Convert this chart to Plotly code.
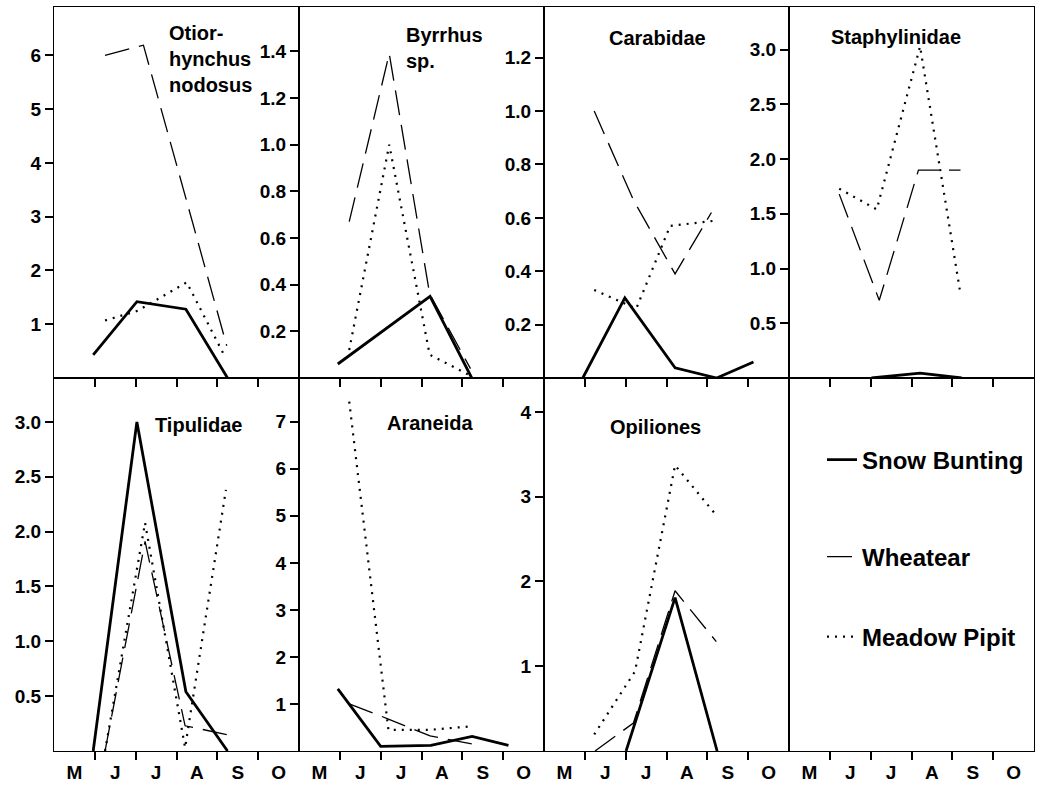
import plotly.graph_objects as go

W, H = 1041, 785

# ---------------- data ----------------
months = ["M", "J", "J", "A", "S", "O"]
month_centres = [0.5, 1.5, 2.5, 3.5, 4.5, 5.5]
month_bounds = [1, 2, 3, 4, 5]

titles = ["Otior-<br>hynchus<br>nodosus", "Byrrhus<br>sp.", "Carabidae", "Staphylinidae",
          "Tipulidae", "Araneida", "Opiliones"]

# Snow Bunting (solid)
sb_x = [[0.96, 2.03, 3.23, 4.25], [0.95, 3.21, 4.23], [0.95, 1.98, 3.21, 4.23, 5.13],
        [2.02, 3.21, 4.23], [0.96, 2.03, 3.23, 4.25], [0.95, 2.0, 3.23, 4.24, 5.13],
        [2.01, 3.21, 4.24]]
sb_y = [[0.43, 1.42, 1.28, 0.0], [0.06, 0.35, 0.0], [0.0, 0.30, 0.038, 0.0, 0.06],
        [0.0, 0.044, 0.0], [0.0, 3.0, 0.54, 0.0], [1.32, 0.10, 0.12, 0.31, 0.12],
        [0.0, 1.81, 0.0]]
# Wheatear (dashed)
wh_x = [[1.25, 2.19, 4.23], [1.23, 2.21, 3.2, 4.2], [1.23, 2.19, 3.21, 4.1],
        [1.23, 2.21, 3.17, 4.2], [1.25, 2.23, 3.21, 4.23], [1.23, 2.19, 3.21, 4.23],
        [1.25, 2.19, 3.21, 4.22]]
wh_y = [[6.0, 6.19, 0.6], [0.67, 1.39, 0.36, 0.04], [1.0, 0.667, 0.39, 0.62],
        [1.68, 0.71, 1.9, 1.9], [0.0, 1.91, 0.23, 0.15], [1.0, 0.68, 0.32, 0.15],
        [0.0, 0.33, 1.89, 1.29]]
# Meadow Pipit (dotted)
mp_x = [[1.25, 2.05, 3.25, 4.15], [1.23, 2.21, 3.2, 4.2], [1.23, 2.26, 3.09, 4.23],
        [1.23, 2.15, 3.21, 4.19], [1.25, 2.23, 3.21, 4.21], [1.23, 2.19, 3.21, 4.15],
        [1.23, 2.23, 3.21, 4.22]]
mp_y = [[1.07, 1.25, 1.78, 0.45], [0.12, 1.0, 0.10, 0.01], [0.33, 0.26, 0.57, 0.59],
        [1.73, 1.54, 3.03, 0.79], [0.0, 2.08, 0.03, 2.38], [7.43, 0.45, 0.45, 0.52],
        [0.195, 0.94, 3.37, 2.78]]

y_ticks = [[1, 2, 3, 4, 5, 6], [0.2, 0.4, 0.6, 0.8, 1.0, 1.2, 1.4], [0.2, 0.4, 0.6, 0.8, 1.0, 1.2],
           [0.5, 1.0, 1.5, 2.0, 2.5, 3.0], [0.5, 1.0, 1.5, 2.0, 2.5, 3.0], [1, 2, 3, 4, 5, 6, 7],
           [1, 2, 3, 4]]
y_max = [6.9, 1.59, 1.39, 3.39, 3.4, 7.93, 4.4]
y_fmt = ["d", ".1f", ".1f", ".1f", ".1f", "d", "d"]

series_names = ["Snow Bunting", "Wheatear", "Meadow Pipit"]

# ---------------- layout geometry ----------------
col_px = [(54, 299), (299, 544), (544, 789), (789, 1034)]
row_px = [(7, 378), (378, 751)]

def px_x(p):
    return p / W

def px_y(p):
    return 1 - p / H

fig = go.Figure()
tick_font = dict(family="Liberation Sans", size=19, color="black", weight="bold")
month_font = dict(family="Liberation Sans", size=19, color="black", weight="bold")

styles = [dict(color="black", width=2.8),
          dict(color="black", width=1.3, dash="25px,10px"),
          dict(color="black", width=2.2, dash="2px,6px")]
legends = ["legend", "legend2", "legend3"]

for i in range(8):
    r, c = divmod(i, 4)
    ax = "" if i == 0 else str(i + 1)
    xd = [px_x(col_px[c][0]), px_x(col_px[c][1])]
    yd = [px_y(row_px[r][1]), px_y(row_px[r][0])]
    xaxis = dict(domain=xd, range=[0, 6], showline=True, mirror=True, linecolor="black",
                 linewidth=1.2, showgrid=False, zeroline=False, anchor="y" + ax,
                 tickmode="array", tickvals=month_centres, ticktext=months,
                 ticks="outside", ticklen=4, tickcolor="rgba(0,0,0,0)",
                 showticklabels=(r == 1), tickfont=month_font,
                 minor=dict(tickmode="array", tickvals=month_bounds, ticks="outside",
                            ticklen=8, tickwidth=1.5, tickcolor="black", showgrid=False))
    if i < 7:
        yaxis = dict(domain=yd, range=[0, y_max[i]], showline=True, mirror=True,
                     linecolor="black", linewidth=1.2, showgrid=False, zeroline=False,
                     anchor="x" + ax, tickmode="array", tickvals=y_ticks[i],
                     tickformat=y_fmt[i], ticks="outside", ticklen=8, tickwidth=1.5,
                     tickcolor="black", tickfont=tick_font)
    else:
        yaxis = dict(domain=yd, range=[0, 1], showline=True, mirror=True,
                     linecolor="black", linewidth=1.2, showgrid=False, zeroline=False,
                     anchor="x" + ax, showticklabels=False, ticks="")
    fig.update_layout(**{"xaxis" + ax: xaxis, "yaxis" + ax: yaxis})

    if i < 7:
        for s, (xs, ys) in enumerate([(sb_x, sb_y), (wh_x, wh_y), (mp_x, mp_y)]):
            fig.add_trace(go.Scatter(x=xs[i], y=ys[i], mode="lines", line=styles[s],
                                     name=series_names[s], showlegend=(i == 0),
                                     legend=legends[s], xaxis="x" + ax, yaxis="y" + ax,
                                     cliponaxis=False))
    else:
        # empty panel that holds the legend
        fig.add_trace(go.Scatter(x=[None], y=[None], mode="lines", showlegend=False,
                                 xaxis="x" + ax, yaxis="y" + ax, hoverinfo="skip"))

# panel titles
title_pos = [(167, 20, "left", "top"), (404, 22, "left", "top"), (657, 38, "center", "middle"),
             (896, 37, "center", "middle"), (198, 425, "center", "middle"),
             (430, 423, "center", "middle"), (655, 427, "center", "middle")]
for t, (x, y, xa, ya) in zip(titles, title_pos):
    fig.add_annotation(text=t, x=px_x(x), y=px_y(y), xref="paper", yref="paper",
                       xanchor=xa, yanchor=ya, align="left", showarrow=False,
                       font=dict(family="Liberation Sans", size=20, color="black", weight="bold"))

leg_font = dict(family="Liberation Sans", size=24, color="black", weight="bold")
leg_y = [460, 557, 637]
for lg, yy in zip(legends, leg_y):
    fig.update_layout(**{lg: dict(x=px_x(822), y=px_y(yy), xanchor="left", yanchor="middle",
                                  bgcolor="rgba(0,0,0,0)", borderwidth=0, font=leg_font,
                                  itemwidth=30)})

fig.update_layout(width=W, height=H, margin=dict(l=0, r=0, t=0, b=0),
                  paper_bgcolor="white", plot_bgcolor="white", showlegend=True)

fig.write_html("out.html")
